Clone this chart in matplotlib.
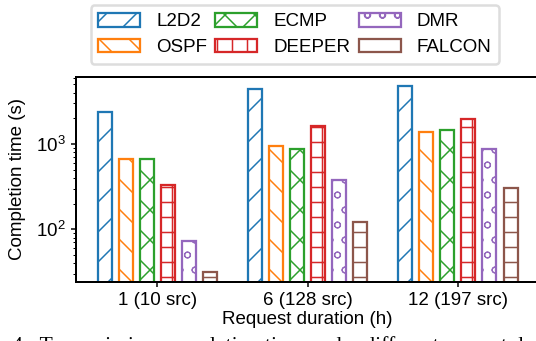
from matplotlib import pyplot as plt
import matplotlib as mpl
import numpy as np

plt.rcParams['font.family'] = ['Liberation Sans', 'DejaVu Sans']
plt.rcParams['hatch.linewidth'] = 0.6

groups = ['1 (10 src)', '6 (128 src)', '12 (197 src)']
methods = ['L2D2', 'OSPF', 'ECMP', 'DEEPER', 'DMR', 'FALCON']
times = {
    'L2D2':   [2400, 4420, 4820],
    'OSPF':   [675, 955, 1395],
    'ECMP':   [675, 875, 1470],
    'DEEPER': [330, 1630, 1980],
    'DMR':    [72, 380, 870],
    'FALCON': [31.5, 122, 302],
}
# '/' family hatches come out twice as sparse, so they are doubled here
hatches = ['//', '\\\\', 'xx', '++', 'oo', '--']
hatch_lw = [0.6, 0.6, 0.6, 0.6, 0.45, 0.6]
colors = ['C0', 'C1', 'C2', 'C3', 'C4', 'C5']

DPI = 180
fig = plt.figure(figsize=(536 / DPI, 341 / DPI), dpi=DPI)
ax = fig.add_axes([0.1418, 0.174, 0.864, 0.601])

x = np.arange(len(groups))
step = 0.14
width = 0.093
for i, m in enumerate(methods):
    with mpl.rc_context({'hatch.linewidth': hatch_lw[i]}):
        ax.bar(x + (i - 2.5) * step, times[m], width, facecolor='white',
               edgecolor=colors[i], hatch=hatches[i], linewidth=0.9, label=m)

ax.set_yscale('log')
ax.set_ylim(24.3, 6150)
ax.set_xlim(-0.54, 2.54)
ax.set_xticks(x)
ax.set_xticklabels(groups)
ax.set_ylabel('Completion time (s)', fontsize=7.5)
ax.set_xlabel('Request duration (h)', fontsize=7.5, labelpad=1)
ax.tick_params(labelsize=7.5, width=0.6, length=2, pad=2)
ax.tick_params(which='minor', width=0.4, length=1.2)
for s in ax.spines.values():
    s.set_linewidth(0.8)

fig.legend(loc='center', bbox_to_anchor=(0.55, 0.899), ncol=3, fontsize=7.5,
           handlelength=2.24, handleheight=0.75, columnspacing=0.45,
           handletextpad=0.85, labelspacing=0.45, borderpad=0.4,
           framealpha=1, edgecolor='#dddddd', fancybox=True)

fig.text(0.022, 0.0147,
         '4:  Transmission completion time under different request durations',
         family=['Liberation Serif', 'DejaVu Serif'], fontsize=8.7, va='top', ha='left')

plt.savefig('out.png', dpi=DPI)
